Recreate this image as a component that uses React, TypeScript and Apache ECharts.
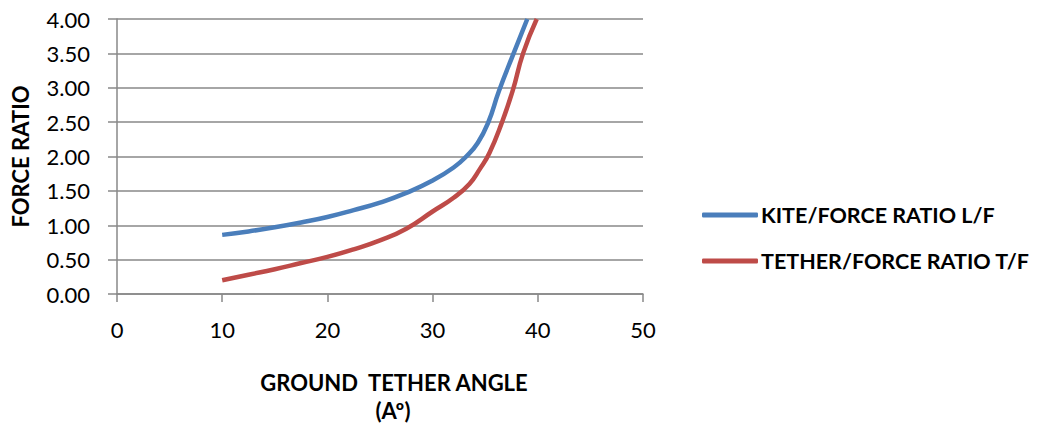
import React, { useEffect, useRef } from "react";
import * as echarts from "echarts";

const kiteAngles = [10, 12.5, 15, 17.5, 20, 22.5, 25, 27.5, 30, 32, 33.2, 34.3, 35.3, 36.3, 37.7, 39.0];
const kiteValues = [0.86, 0.91, 0.97, 1.04, 1.12, 1.22, 1.33, 1.47, 1.65, 1.84, 2.0, 2.2, 2.5, 2.95, 3.5, 4.0];
const tetherAngles = [10, 12.5, 15, 17.5, 20, 22.5, 25, 27.5, 30, 32, 33.5, 34.5, 35.4, 36.6, 37.6, 38.6, 39.9];
const tetherValues = [0.2, 0.28, 0.36, 0.45, 0.54, 0.65, 0.78, 0.95, 1.2, 1.4, 1.6, 1.82, 2.05, 2.5, 2.95, 3.5, 4.0];
const seriesNames = ["KITE/FORCE RATIO L/F", "TETHER/FORCE RATIO T/F"];
const yAxisTitle = "FORCE RATIO";
const xAxisTitle = ["GROUND  TETHER ANGLE", "(Aº)"];

const FONT = "Lato, 'Open Sans', sans-serif";

export default function App() {
  const ref = useRef<HTMLDivElement>(null);
  useEffect(() => {
    if (!ref.current) return;
    const chart = echarts.init(ref.current, undefined, { renderer: "svg" });
    const pair = (xs: number[], ys: number[]) => xs.map((x, i) => [x, ys[i]]);
    chart.setOption({
      animation: false,
      textStyle: { fontFamily: FONT },
      grid: { left: 117, right: 402, top: 19, bottom: 133 },
      xAxis: {
        type: "value",
        min: 0,
        max: 50,
        interval: 10,
        axisLine: { show: true, lineStyle: { color: "#888", width: 1.5 } },
        axisTick: { show: true, length: 8, lineStyle: { color: "#888", width: 1.5 } },
        axisLabel: { color: "#000", fontSize: 22, margin: 24, fontFamily: FONT },
        splitLine: { show: false },
      },
      yAxis: {
        type: "value",
        min: 0,
        max: 4,
        interval: 0.5,
        axisLine: { show: true, lineStyle: { color: "#888", width: 1.5 } },
        axisTick: { show: true, inside: false, length: 9, lineStyle: { color: "#888", width: 1.5 } },
        axisLabel: {
          color: "#000",
          fontSize: 22,
          margin: 27,
          fontFamily: FONT,
          formatter: (v: number) => v.toFixed(2),
        },
        splitLine: { show: true, lineStyle: { color: "#888", width: 1.5 } },
        name: yAxisTitle,
        nameLocation: "middle",
        nameGap: 86,
        nameRotate: 90,
        nameTextStyle: { color: "#000", fontSize: 22, fontWeight: "bold", fontFamily: FONT },
      },
      legend: {
        orient: "vertical",
        left: 697,
        top: 199,
        itemWidth: 56,
        itemHeight: 5,
        itemGap: 24,
        icon: "roundRect",
        textStyle: { color: "#000", fontSize: 21.5, fontWeight: "bold", fontFamily: FONT, padding: [0, 0, 0, -2] },
        data: seriesNames,
      },
      graphic: [
        {
          type: "text",
          x: 394,
          y: 382,
          style: { text: xAxisTitle[0], fill: "#000", font: `bold 22px ${FONT}`, align: "center", verticalAlign: "middle" },
        },
        {
          type: "text",
          x: 393,
          y: 410,
          style: { text: xAxisTitle[1], fill: "#000", font: `bold 22px ${FONT}`, align: "center", verticalAlign: "middle" },
        },
      ],
      series: [
        {
          name: seriesNames[0],
          type: "line",
          data: pair(kiteAngles, kiteValues),
          smooth: 0.5,
          showSymbol: false,
          lineStyle: { color: "#4A7EBB", width: 4.5 },
          itemStyle: { color: "#4A7EBB" },
        },
        {
          name: seriesNames[1],
          type: "line",
          data: pair(tetherAngles, tetherValues),
          smooth: 0.5,
          showSymbol: false,
          lineStyle: { color: "#BE4B48", width: 4.5 },
          itemStyle: { color: "#BE4B48" },
        },
      ],
    });
    return () => chart.dispose();
  }, []);
  return <div ref={ref} style={{ width: 1045, height: 427, position: "absolute", left: 0, top: 0 }} />;
}
